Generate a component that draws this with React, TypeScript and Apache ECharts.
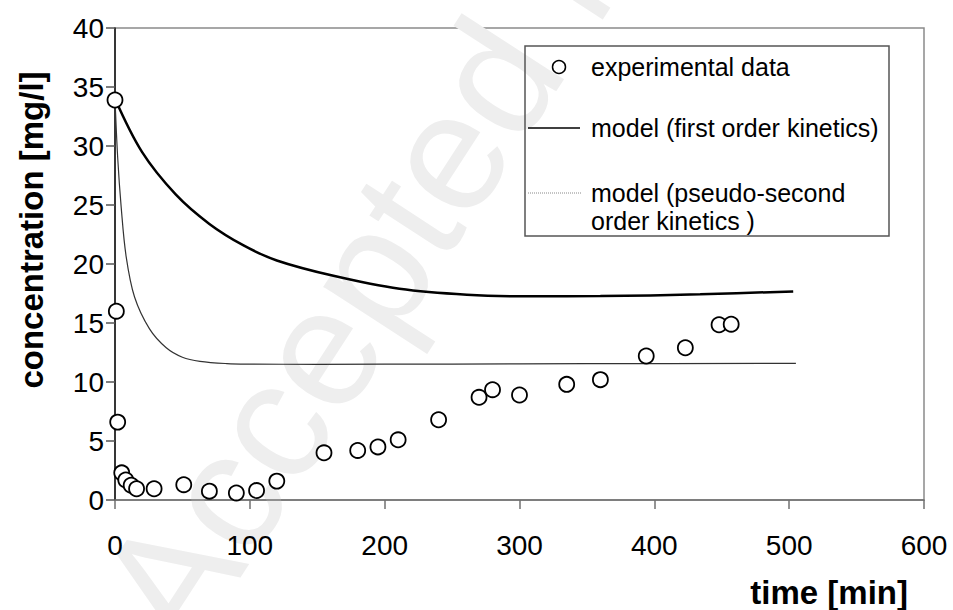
import React, { useEffect, useRef } from 'react';
import * as echarts from 'echarts';

// experimental data
const timeExp = [0, 1, 2, 5, 8, 12, 16, 29, 51, 70, 90, 105, 120, 155, 180, 195, 210, 240, 270, 280, 300, 335, 360, 394, 423, 448, 457];
const concExp = [33.9, 16.0, 6.6, 2.3, 1.7, 1.25, 0.95, 0.95, 1.3, 0.75, 0.6, 0.8, 1.6, 4.0, 4.2, 4.5, 5.1, 6.8, 8.7, 9.35, 8.9, 9.8, 10.2, 12.2, 12.9, 14.85, 14.9];

// model (first order kinetics)
const timeFirst = [0, 20, 45, 70, 95, 120, 162, 211, 261, 310, 360, 434, 503];
const concFirst = [34, 29.5, 25.9, 23.4, 21.6, 20.3, 19.0, 17.9, 17.4, 17.26, 17.28, 17.43, 17.68];

// model (pseudo-second order kinetics)
const timeSecond = [0, 2, 4.6, 8.3, 14.5, 25.6, 38, 50, 63, 83, 100, 150, 250, 350, 505];
const concSecond = [34, 29.0, 24.8, 20.6, 17.2, 14.5, 12.9, 12.1, 11.75, 11.56, 11.52, 11.5, 11.52, 11.55, 11.58];

const xTicks = { min: 0, max: 600, interval: 100 };
const yTicks = { min: 0, max: 40, interval: 5 };

const legendLabels = ['experimental data', 'model (first order kinetics)', 'model (pseudo-second', 'order kinetics )'];
const xTitle = 'time [min]';
const yTitle = 'concentration [mg/l]';
const watermark = 'Accepted Manuscript';

const FONT = "'Liberation Sans', Arial, Helvetica, sans-serif";

function pairs(xs: number[], ys: number[]) {
  return xs.map((x, i) => [x, ys[i]]);
}

function txt(text: string, x: number, y: number, font: string, align: string, valign: string, extra: any = {}) {
  return {
    type: 'text',
    x,
    y,
    z: 10,
    ...extra,
    style: {
      text,
      font,
      fill: extra.fill || '#000',
      align,
      verticalAlign: valign,
      textAlign: align,
      textVerticalAlign: valign,
    },
  };
}

export default function App() {
  const ref = useRef<HTMLDivElement>(null);
  useEffect(() => {
    document.body.style.margin = '0';
    const chart = echarts.init(ref.current!, null, { renderer: 'svg' });
    const wmAngle = (57 * Math.PI) / 180;
    chart.setOption({
      animation: false,
      backgroundColor: '#fff',
      grid: {
        left: 115,
        right: 29,
        top: 28,
        bottom: 110,
        show: true,
        borderColor: '#8a8a8a',
        borderWidth: 1.5,
        backgroundColor: 'transparent',
      },
      xAxis: {
        type: 'value',
        min: xTicks.min,
        max: xTicks.max,
        interval: xTicks.interval,
        splitLine: { show: false },
        axisLine: { show: true, onZero: false, lineStyle: { color: '#707070', width: 1.5 } },
        axisTick: { show: true, inside: false, length: 9, lineStyle: { color: '#707070', width: 1.5 } },
        axisLabel: { color: '#000', fontSize: 28, fontFamily: FONT, margin: 31 },
      },
      yAxis: {
        type: 'value',
        min: yTicks.min,
        max: yTicks.max,
        interval: yTicks.interval,
        splitLine: { show: false },
        axisLine: { show: true, onZero: false, lineStyle: { color: '#111', width: 1.5 } },
        axisTick: { show: true, inside: false, length: 9, lineStyle: { color: '#555', width: 1.5 } },
        axisLabel: { color: '#000', fontSize: 28, fontFamily: FONT, margin: 11 },
      },
      graphic: [
        {
          type: 'text',
          x: 210,
          y: 672,
          rotation: wmAngle,
          z: 0,
          silent: true,
          style: {
            text: watermark,
            font: `168px ${FONT}`,
            fill: '#eeeeee',
            align: 'left',
            verticalAlign: 'bottom',
            textAlign: 'left',
            textVerticalAlign: 'bottom',
          },
        },
        txt(yTitle, 31, 230, `bold 33px ${FONT}`, 'center', 'middle', { rotation: Math.PI / 2 }),
        txt(xTitle, 908, 592, `bold 33px ${FONT}`, 'right', 'middle'),
        {
          type: 'rect',
          z: 10,
          shape: { x: 525, y: 46, width: 364, height: 190 },
          style: { fill: 'none', stroke: '#555', lineWidth: 1.5 },
        },
        {
          type: 'circle',
          z: 10,
          shape: { cx: 559, cy: 67, r: 6.5 },
          style: { fill: '#fff', stroke: '#000', lineWidth: 1.5 },
        },
        {
          type: 'line',
          z: 10,
          shape: { x1: 528, y1: 128, x2: 580, y2: 128 },
          style: { stroke: '#000', lineWidth: 1.5 },
        },
        {
          type: 'line',
          z: 10,
          shape: { x1: 528, y1: 193, x2: 582, y2: 193 },
          style: { stroke: '#888', lineWidth: 1, lineDash: [1, 1] },
        },
        txt(legendLabels[0], 591, 67, `25px ${FONT}`, 'left', 'middle'),
        txt(legendLabels[1], 591, 128, `25px ${FONT}`, 'left', 'middle'),
        txt(legendLabels[2], 591, 193, `25px ${FONT}`, 'left', 'middle'),
        txt(legendLabels[3], 591, 221, `25px ${FONT}`, 'left', 'middle'),
      ],
      series: [
        {
          name: 'model (first order kinetics)',
          type: 'line',
          data: pairs(timeFirst, concFirst),
          showSymbol: false,
          smooth: 0.35,
          lineStyle: { color: '#000', width: 2.5 },
          z: 3,
        },
        {
          name: 'model (pseudo-second order kinetics )',
          type: 'line',
          data: pairs(timeSecond, concSecond),
          showSymbol: false,
          smooth: 0.35,
          lineStyle: { color: '#333', width: 1.2 },
          z: 3,
        },
        {
          name: 'experimental data',
          type: 'scatter',
          data: pairs(timeExp, concExp),
          symbol: 'circle',
          symbolSize: 15,
          itemStyle: { color: '#fff', borderColor: '#000', borderWidth: 1.8, opacity: 1 },
          z: 5,
        },
      ],
    });
    return () => chart.dispose();
  }, []);
  return <div ref={ref} style={{ width: 953, height: 610 }} />;
}
